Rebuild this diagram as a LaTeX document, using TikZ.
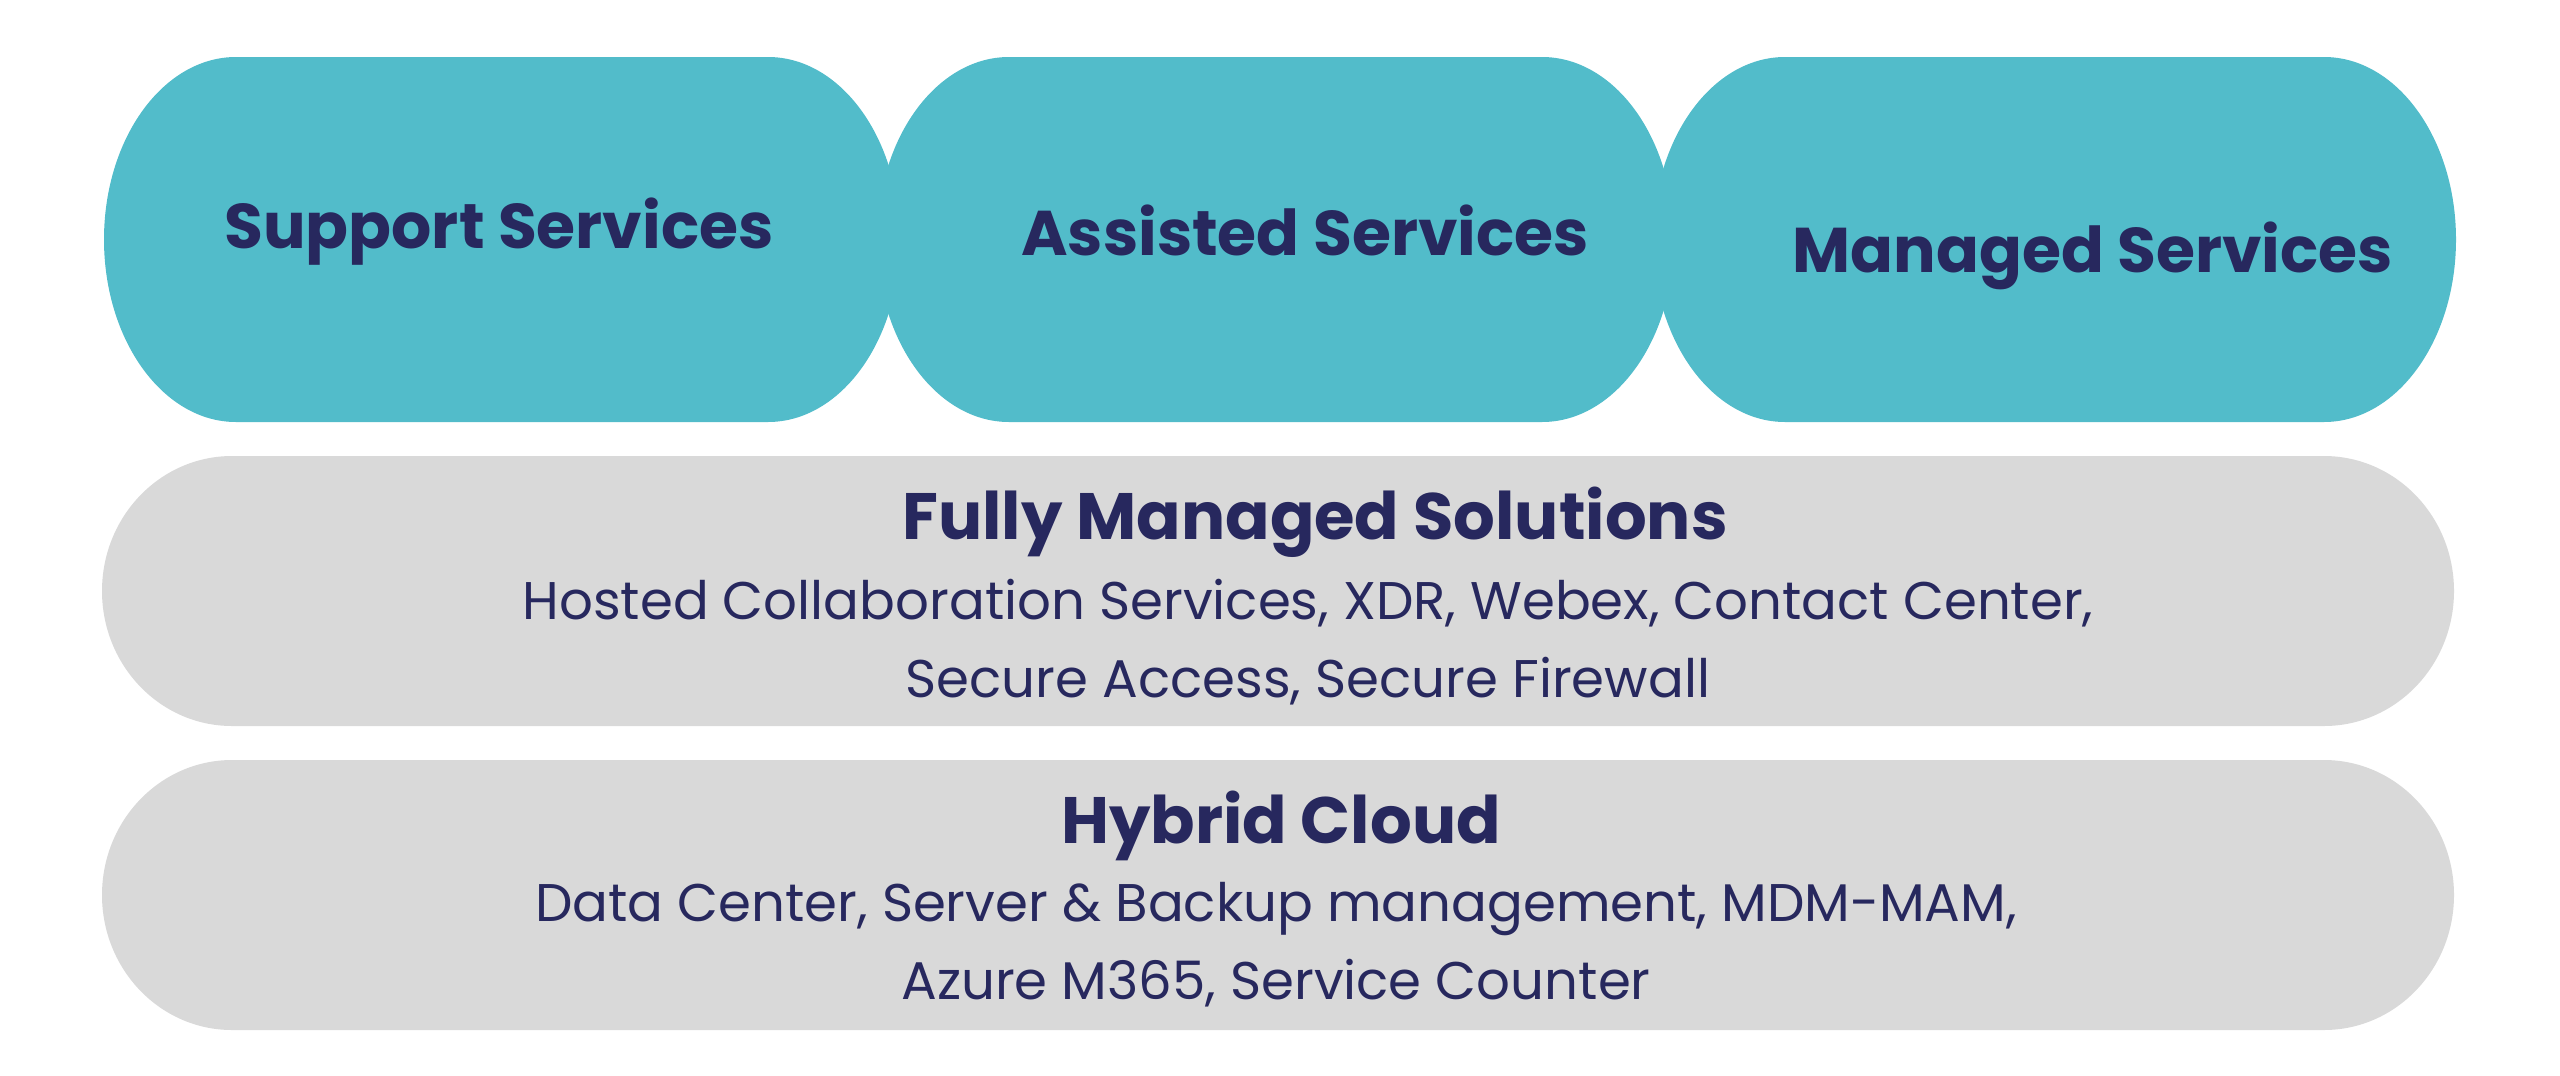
\documentclass[tikz,border=0pt]{standalone}
\usepackage{fontspec}
\setmainfont{Poppins}
\definecolor{tealpill}{HTML}{52BCCA}
\definecolor{layergray}{HTML}{D9D9D9}
\definecolor{inkblue}{HTML}{27285E}

\begin{document}
\begin{tikzpicture}[x=0.25pt,y=0.25pt]
    \tikzstyle{every node}=[text=inkblue, inner sep=0pt, anchor=base]
    \tikzstyle{tab}=[font={\fontsize{15.8}{18}\selectfont\bfseries}]
    \tikzstyle{head}=[font={\fontsize{16.4}{20}\selectfont\bfseries}]
    \tikzstyle{body}=[font={\fontsize{13.25}{19.5}\selectfont}, align=center]
    \useasboundingbox (0,0) rectangle (2560,1075);
    % service pills
    \foreach \xa/\xb in {104/900, 877/1674, 1653/2456}
        \fill[tealpill] (\xa+132,1018) -- (\xb-132,1018)
            arc[start angle=90, end angle=-90, x radius=132, y radius=182.5]
            -- (\xa+132,653)
            arc[start angle=270, end angle=90, x radius=132, y radius=182.5] -- cycle;
    % solution layers
    \foreach \yb/\yt in {349/619, 45/315}
        \fill[layergray] (232,\yt) -- (2324,\yt)
            arc[start angle=90, end angle=-90, x radius=130, y radius=135]
            -- (232,\yb)
            arc[start angle=270, end angle=90, x radius=130, y radius=135] -- cycle;
    \node[tab] (support) at (499,827) {Support Services};
    \node[tab] (assisted) at (1305,820) {Assisted Services};
    \node[tab] (managed) at (2093,803) {Managed Services};
    \node[head] (fully) at (1315,536) {Fully Managed Solutions};
    \node[body] (fullytxt) at (1308,378) {Hosted Collaboration Services, XDR, Webex, Contact Center,\\ Secure Access, Secure Firewall};
    \node[head] (hybrid) at (1281,232) {Hybrid Cloud};
    \node[body] (hybridtxt) at (1276,76) {Data Center, Server \& Backup management, MDM-MAM,\\ Azure M365, Service Counter};
\end{tikzpicture}
\end{document}
